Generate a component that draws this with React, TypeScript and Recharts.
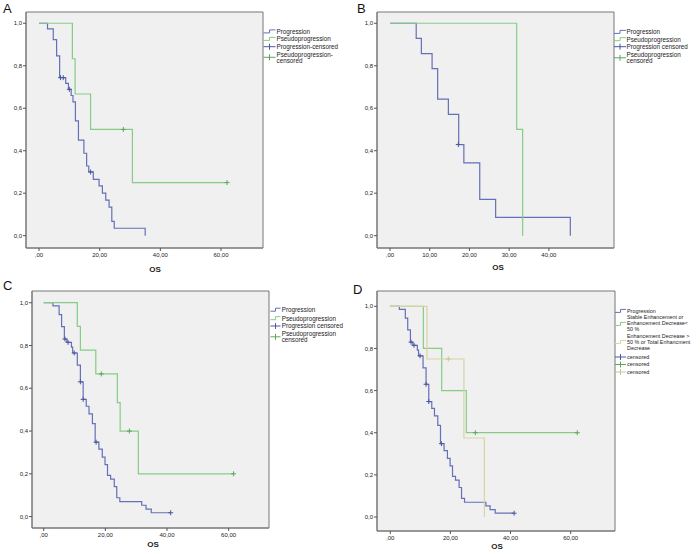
import React from 'react';
import { ComposedChart, Line, Scatter, XAxis, YAxis, CartesianGrid, ReferenceArea } from 'recharts';

const FONT = '"Liberation Sans", Arial, Helvetica, sans-serif';

// ---------- Panel A ----------
const aProgT = [0, 2.8, 4.7, 5.8, 6.8, 8.8, 9.7, 10.6, 11.2, 12.0, 13.0, 14.8, 15.7, 16.4, 17.9, 19.8, 20.9, 22.0, 23.1, 24.0, 24.8, 35.0];
const aProgS = [1, 0.974, 0.923, 0.846, 0.744, 0.717, 0.689, 0.66, 0.63, 0.54, 0.45, 0.388, 0.328, 0.30, 0.265, 0.234, 0.20, 0.167, 0.134, 0.067, 0.035, 0];
const aProgCensT = [7.1, 8.0, 10.0, 17.0];
const aProgCensS = [0.744, 0.744, 0.689, 0.30];
const aPseudoT = [0, 11.0, 11.9, 17.0, 30.8, 62.0];
const aPseudoS = [1, 0.833, 0.667, 0.5, 0.25, 0.25];
const aPseudoCensT = [27.8, 62.0];
const aPseudoCensS = [0.5, 0.25];

// ---------- Panel B ----------
const bProgT = [0, 6.6, 7.9, 10.6, 12.0, 14.7, 17.3, 18.6, 22.6, 26.6, 45.4];
const bProgS = [1, 0.929, 0.857, 0.786, 0.643, 0.571, 0.429, 0.343, 0.171, 0.086, 0];
const bProgCensT = [17.2];
const bProgCensS = [0.429];
const bPseudoT = [0, 31.9, 33.4];
const bPseudoS = [1, 0.5, 0];

// ---------- Panel C ----------
const cProgT = [0, 3.0, 5.0, 5.8, 6.7, 7.5, 9.0, 9.4, 10.9, 11.9, 12.8, 13.8, 14.7, 15.8, 16.7, 17.9, 19.0, 19.9, 20.7, 21.7, 22.9, 23.7, 24.7, 31.8, 33.2, 34.9, 41.2];
const cProgS = [1, 0.985, 0.944, 0.888, 0.83, 0.815, 0.792, 0.765, 0.708, 0.63, 0.548, 0.516, 0.48, 0.435, 0.348, 0.315, 0.278, 0.243, 0.193, 0.175, 0.14, 0.088, 0.07, 0.053, 0.035, 0.018, 0.018];
const cProgCensT = [6.9, 7.9, 9.9, 11.9, 12.8, 17.0, 41.2];
const cProgCensS = [0.83, 0.815, 0.765, 0.63, 0.548, 0.348, 0.018];
const cPseudoT = [0, 10.9, 11.9, 16.9, 23.9, 24.8, 30.7, 61.6];
const cPseudoS = [1, 0.889, 0.778, 0.667, 0.533, 0.4, 0.2, 0.2];
const cPseudoCensT = [18.7, 27.8, 61.6];
const cPseudoCensS = [0.667, 0.4, 0.2];

// ---------- Panel D ----------
const dProgT = cProgT;
const dProgS = cProgS;
const dProgCensT = cProgCensT;
const dProgCensS = cProgCensS;
const dStableT = [0, 11.0, 17.1, 25.3, 62.2];
const dStableS = [1, 0.8, 0.6, 0.4, 0.4];
const dStableCensT = [28.3, 62.2];
const dStableCensS = [0.4, 0.4];
const dDecT = [0, 12.2, 24.5, 31.3];
const dDecS = [1, 0.75, 0.375, 0];
const dDecCensT = [19.3];
const dDecCensS = [0.75];

const yTicks = [0, 0.2, 0.4, 0.6, 0.8, 1.0];
const xTicks60 = [0, 20, 40, 60];
const xTicks40 = [0, 10, 20, 30, 40];

const BLUE = '#6470b8';
const BLUE_C = '#4a56a0';
const GREEN = '#86cc86';
const GREEN_C = '#5aa85a';
const TAN = '#d8d4a2';
const TAN_C = '#cbc690';
const BG = '#f0f0f0';
const FRAME = '#767676';

const zip = (t: number[], s: number[]) => t.map((v, i) => ({ t: v, s: s[i] }));

type Series = { t: number[]; s: number[]; ct?: number[]; cs?: number[]; color: string; censColor: string };

const makeCensor = (color: string) => (props: any) => {
  const { cx, cy } = props;
  if (cx == null || cy == null) return <g />;
  return (
    <g>
      <line x1={cx} y1={cy - 2.5} x2={cx} y2={cy + 2.5} stroke={color} strokeWidth={1} />
      <line x1={cx - 2.5} y1={cy} x2={cx + 2.5} y2={cy} stroke={color} strokeWidth={1} />
    </g>
  );
};

const fmtY = (v: number) => v.toFixed(1).replace('.', ',');
const fmtX = (v: number) => (v === 0 ? ',00' : v.toFixed(2).replace('.', ','));

function Panel(props: {
  fx: number; fy: number; fw: number; fh: number;
  xDomain: [number, number]; yDomain: [number, number]; xTicks: number[]; series: Series[];
}) {
  const { fx, fy, fw, fh, xDomain, yDomain, xTicks, series } = props;
  const YW = 26, XH = 20, MT = 2, MR = 2;
  const w = fw + YW + MR;
  const h = fh + XH + MT;
  const tickStyle = { fontSize: 6, fill: '#222', fontFamily: FONT };
  return (
    <div style={{ position: 'absolute', left: fx - YW, top: fy - MT }}>
      <ComposedChart width={w} height={h} margin={{ top: MT, right: MR, bottom: 0, left: 0 }}>
        <CartesianGrid fill={BG} horizontal={false} vertical={false} stroke="none" />
        <XAxis
          type="number" dataKey="t" domain={xDomain} ticks={xTicks} allowDataOverflow height={XH}
          tickFormatter={fmtX} tick={tickStyle} tickSize={3} tickMargin={2}
          axisLine={{ stroke: FRAME }} tickLine={{ stroke: '#555' }} interval={0}
        />
        <YAxis
          type="number" dataKey="s" domain={yDomain} ticks={yTicks} allowDataOverflow width={YW}
          tickFormatter={fmtY} tick={tickStyle} tickSize={3} tickMargin={1}
          axisLine={{ stroke: FRAME }} tickLine={{ stroke: '#555' }} interval={0}
        />
        <ReferenceArea x1={xDomain[0]} x2={xDomain[1]} y1={yDomain[0]} y2={yDomain[1]} fill="none" stroke={FRAME} strokeWidth={1} ifOverflow="visible" />
        {series.map((se, i) => (
          <Line key={'l' + i} data={zip(se.t, se.s)} dataKey="s" type="stepAfter" stroke={se.color}
            strokeWidth={1.2} dot={false} activeDot={false} isAnimationActive={false} />
        ))}
        {series.map((se, i) =>
          se.ct ? (
            <Scatter key={'c' + i} data={zip(se.ct, se.cs || [])} dataKey="s" shape={makeCensor(se.censColor)}
              isAnimationActive={false} />
          ) : null
        )}
      </ComposedChart>
    </div>
  );
}

type LegItem = { kind: 'step' | 'cens'; color: string; iconY: number; lines: [string, number][] };

const legA: LegItem[] = [
  { kind: 'step', color: BLUE, iconY: 31.5, lines: [['Progression', 31.5]] },
  { kind: 'step', color: GREEN, iconY: 39, lines: [['Pseudoprogression', 39]] },
  { kind: 'cens', color: BLUE_C, iconY: 46.7, lines: [['Progression-censored', 46.7]] },
  { kind: 'cens', color: GREEN_C, iconY: 57.3, lines: [['Pseudoprogression-', 54.4], ['censored', 60.4]] },
];
const legB: LegItem[] = [
  { kind: 'step', color: BLUE, iconY: 32, lines: [['Progression', 32]] },
  { kind: 'step', color: GREEN, iconY: 39.3, lines: [['Pseudoprogression', 39.3]] },
  { kind: 'cens', color: BLUE_C, iconY: 46.7, lines: [['Progression censored', 46.7]] },
  { kind: 'cens', color: GREEN_C, iconY: 57.8, lines: [['Pseudoprogression', 54.8], ['censored', 60.8]] },
];
const legC: LegItem[] = [
  { kind: 'step', color: BLUE, iconY: 309.8, lines: [['Progression', 309.8]] },
  { kind: 'step', color: GREEN, iconY: 318.3, lines: [['Pseudoprogression', 318.3]] },
  { kind: 'cens', color: BLUE_C, iconY: 326, lines: [['Progression censored', 326]] },
  { kind: 'cens', color: GREEN_C, iconY: 336.8, lines: [['Pseudoprogression', 333.7], ['censored', 340]] },
];
const legD: LegItem[] = [
  { kind: 'step', color: BLUE, iconY: 311, lines: [['Progression', 311]] },
  { kind: 'step', color: GREEN, iconY: 324, lines: [['Stable Enhancement or', 317], ['Enhancement Decrease<', 323], ['50 %', 329]] },
  { kind: 'step', color: TAN, iconY: 342, lines: [['Enhancement Decrease >', 336], ['50 % or Total Enhancment', 342], ['Decrease', 348]] },
  { kind: 'cens', color: BLUE_C, iconY: 357, lines: [['censored', 357]] },
  { kind: 'cens', color: GREEN_C, iconY: 364.5, lines: [['censored', 364.5]] },
  { kind: 'cens', color: TAN_C, iconY: 372, lines: [['censored', 372]] },
];

function Legend(props: { items: LegItem[]; x0: number; iw: number; tx: number; fs: number }) {
  const { items, x0, iw, tx, fs } = props;
  return (
    <g>
      {items.map((it, i) => (
        <g key={i}>
          {it.kind === 'step' ? (
            <path d={`M${x0},${it.iconY + 1.4} H${x0 + iw / 2} V${it.iconY - 1.6} H${x0 + iw}`} fill="none" stroke={it.color} strokeWidth={1} />
          ) : (
            <g>
              <line x1={x0} y1={it.iconY} x2={x0 + iw} y2={it.iconY} stroke={it.color} strokeWidth={1} />
              <line x1={x0 + iw / 2} y1={it.iconY - 3} x2={x0 + iw / 2} y2={it.iconY + 3} stroke={it.color} strokeWidth={1} />
            </g>
          )}
          {it.lines.map(([txt, y], j) => (
            <text key={j} x={tx} y={y + fs * 0.36} fontSize={fs} fontFamily={FONT} fill="#222">{txt}</text>
          ))}
        </g>
      ))}
    </g>
  );
}

export default function App() {
  const seriesA: Series[] = [
    { t: aProgT, s: aProgS, ct: aProgCensT, cs: aProgCensS, color: BLUE, censColor: BLUE_C },
    { t: aPseudoT, s: aPseudoS, ct: aPseudoCensT, cs: aPseudoCensS, color: GREEN, censColor: GREEN_C },
  ];
  const seriesB: Series[] = [
    { t: bProgT, s: bProgS, ct: bProgCensT, cs: bProgCensS, color: BLUE, censColor: BLUE_C },
    { t: bPseudoT, s: bPseudoS, color: GREEN, censColor: GREEN_C },
  ];
  const seriesC: Series[] = [
    { t: cProgT, s: cProgS, ct: cProgCensT, cs: cProgCensS, color: BLUE, censColor: BLUE_C },
    { t: cPseudoT, s: cPseudoS, ct: cPseudoCensT, cs: cPseudoCensS, color: GREEN, censColor: GREEN_C },
  ];
  const seriesD: Series[] = [
    { t: dProgT, s: dProgS, ct: dProgCensT, cs: dProgCensS, color: BLUE, censColor: BLUE_C },
    { t: dStableT, s: dStableS, ct: dStableCensT, cs: dStableCensS, color: GREEN, censColor: GREEN_C },
    { t: dDecT, s: dDecS, ct: dDecCensT, cs: dDecCensS, color: TAN, censColor: TAN_C },
  ];
  return (
    <div style={{ position: 'absolute', left: 0, top: 0, width: 700, height: 554, background: '#fff', overflow: 'hidden' }}>
      <Panel fx={26} fy={12} fw={237} fh={236} xDomain={[-4.29, 73.85]} yDomain={[-0.058, 1.053]} xTicks={xTicks60} series={seriesA} />
      <Panel fx={377} fy={12} fw={237} fh={236} xDomain={[-3.27, 56.4]} yDomain={[-0.058, 1.053]} xTicks={xTicks40} series={seriesB} />
      <Panel fx={32} fy={291} fw={237} fh={237} xDomain={[-3.8, 73.1]} yDomain={[-0.0534, 1.0548]} xTicks={xTicks60} series={seriesC} />
      <Panel fx={377} fy={291} fw={238} fh={240} xDomain={[-4.42, 74.75]} yDomain={[-0.0664, 1.0726]} xTicks={xTicks60} series={seriesD} />
      <svg width={700} height={554} style={{ position: 'absolute', left: 0, top: 0, pointerEvents: 'none' }}>
        <text x={3} y={13} fontSize={13} fontFamily={FONT} fill="#111">A</text>
        <text x={357} y={13} fontSize={13} fontFamily={FONT} fill="#111">B</text>
        <text x={3} y={290} fontSize={13} fontFamily={FONT} fill="#111">C</text>
        <text x={353} y={294} fontSize={13} fontFamily={FONT} fill="#111">D</text>
        <text x={155} y={272} fontSize={8} fontWeight="bold" textAnchor="middle" fontFamily={FONT} fill="#222">OS</text>
        <text x={498} y={270} fontSize={8} fontWeight="bold" textAnchor="middle" fontFamily={FONT} fill="#222">OS</text>
        <text x={153} y={547} fontSize={8} fontWeight="bold" textAnchor="middle" fontFamily={FONT} fill="#222">OS</text>
        <text x={497} y={549} fontSize={8} fontWeight="bold" textAnchor="middle" fontFamily={FONT} fill="#222">OS</text>
        <Legend items={legA} x0={263.5} iw={12} tx={276.5} fs={6.3} />
        <Legend items={legB} x0={614} iw={12} tx={626.5} fs={6.3} />
        <Legend items={legC} x0={270.5} iw={10} tx={281.7} fs={6.3} />
        <Legend items={legD} x0={615} iw={11} tx={627} fs={5.4} />
      </svg>
    </div>
  );
}
